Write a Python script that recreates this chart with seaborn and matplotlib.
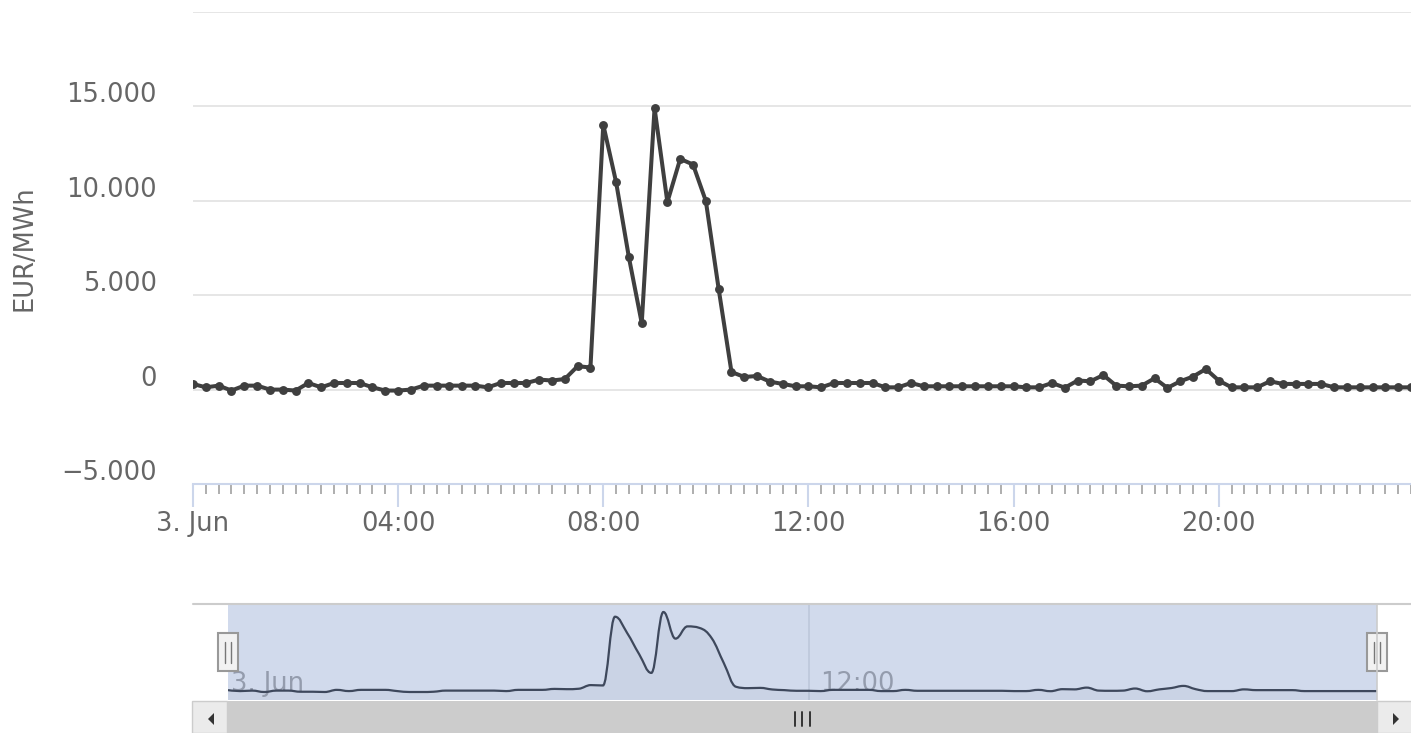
"""
Day-ahead price curve (15-min slots, 3 June) in Highcharts-Stock look:
main line chart with markers and a small navigator + scrollbar below.
"""
import numpy as np
import pandas as pd
import matplotlib
matplotlib.use("Agg")
import matplotlib.pyplot as plt
import matplotlib.dates as mdates
import seaborn as sns
from matplotlib.path import Path
from matplotlib.patches import PathPatch, Rectangle, Polygon
from matplotlib.lines import Line2D
from matplotlib.ticker import FuncFormatter
from matplotlib.transforms import ScaledTranslation, blended_transform_factory

W, H = 1411, 733

# --- data ---
timestamps = pd.date_range("2024-06-03 00:00", periods=96, freq="15min")
prices = [
    300, 120, 210, -50, 210, 210, 0, 0,
    -50, 350, 120, 350, 350, 350, 120, -50,
    -50, 0, 210, 210, 210, 210, 210, 120,
    350, 350, 350, 530, 480, 560, 1240, 1170,
    14030, 10990, 7000, 3520, 14910, 9930, 12220, 11920,
    9990, 5330, 930, 670, 720, 420, 300, 175,
    175, 120, 350, 350, 350, 350, 120, 120,
    350, 175, 175, 175, 175, 175, 175, 175,
    175, 120, 120, 350, 100, 480, 440, 770,
    210, 175, 210, 600, 90, 440, 690, 1090,
    480, 120, 120, 120, 440, 300, 300, 300,
    300, 120, 120, 120, 120, 120, 120, 120,
]
y_ticks = [-5000, 0, 5000, 10000, 15000, 20000]
y_labels = ["\u22125.000", "0", "5.000", "10.000", "15.000", ""]
day_label = "3. Jun"
y_title = "EUR/MWh"

LINE = "#3f3f3f"
TXT = "#666666"


def fx(px):
    return px / W


def fy(py):
    return 1 - py / H


def spline_path(xs, ys, smoothing=1.5):
    # Highcharts-style spline: cubic bezier control points around each point
    denom = smoothing + 1
    verts = [(xs[0], ys[0])]
    codes = [Path.MOVETO]
    right_prev = (xs[0], ys[0])
    n = len(xs)
    for i in range(1, n):
        x, y = xs[i], ys[i]
        lx, ly = xs[i - 1], ys[i - 1]
        if i < n - 1:
            nx, ny = xs[i + 1], ys[i + 1]
            lcx, lcy = (smoothing * x + lx) / denom, (smoothing * y + ly) / denom
            rcx, rcy = (smoothing * x + nx) / denom, (smoothing * y + ny) / denom
            corr = (rcy - lcy) * (rcx - x) / (rcx - lcx) + y - rcy
            lcy += corr
            rcy += corr
            if lcy > ly and lcy > y:
                lcy = max(ly, y); rcy = 2 * y - lcy
            elif lcy < ly and lcy < y:
                lcy = min(ly, y); rcy = 2 * y - lcy
            if rcy > ny and rcy > y:
                rcy = max(ny, y); lcy = 2 * y - rcy
            elif rcy < ny and rcy < y:
                rcy = min(ny, y); lcy = 2 * y - rcy
        else:
            lcx, lcy, rcx, rcy = x, y, x, y
        verts += [right_prev, (lcx, lcy), (x, y)]
        codes += [Path.CURVE4] * 3
        right_prev = (rcx, rcy)
    return verts, codes


sns.set_theme(style="white")
plt.rcParams["font.family"] = ["DejaVu Sans"]

fig = plt.figure(figsize=(W / 100, H / 100), dpi=100)

# ---------------- main chart ----------------
ax = fig.add_axes([fx(193), fy(484), 1218 / W, 472 / H])
df = pd.DataFrame({"zeit": timestamps, "preis": prices})
sns.lineplot(data=df, x="zeit", y="preis", ax=ax, color=LINE, lw=2.9,
             marker="o", markersize=6.4, markeredgewidth=0, zorder=3)

ax.set_xlim(timestamps[0], timestamps[-1])
ax.set_ylim(-5000, 20000)
ax.set_xlabel("")
ax.set_ylabel("")
ax.set_yticks(y_ticks)
ax.set_yticklabels(y_labels)
ax.grid(axis="y", color="#e6e6e6", lw=1.4)
ax.grid(axis="x", visible=False)
ax.set_axisbelow(True)
for s in ["top", "right", "left"]:
    ax.spines[s].set_visible(False)
ax.spines["bottom"].set_color("#ccd6eb")
ax.spines["bottom"].set_linewidth(1.5)
ax.spines["bottom"].set_zorder(4)

ax.xaxis.set_major_locator(mdates.HourLocator(byhour=range(0, 24, 4)))
ax.xaxis.set_minor_locator(mdates.MinuteLocator(byminute=[0, 15, 30, 45]))
ax.xaxis.set_major_formatter(FuncFormatter(
    lambda v, pos: day_label if mdates.num2date(v).hour == 0
    else mdates.num2date(v).strftime("%H:%M")))
ax.tick_params(axis="x", which="both", bottom=True, direction="out")
ax.tick_params(axis="x", which="major", length=16.5, width=1.5, color="#ccd6eb",
               labelsize=18.5, labelcolor=TXT, pad=3)
ax.tick_params(axis="x", which="minor", length=7, width=1.1, color="#999999")
ax.tick_params(axis="y", left=False, length=0, pad=26, labelsize=18.5,
               labelcolor=TXT)
# Highcharts puts the y labels slightly above their grid line
for lab in ax.get_yticklabels():
    lab.set_transform(lab.get_transform()
                      + ScaledTranslation(0, 14 / 100, fig.dpi_scale_trans))

fig.text(fx(25), fy(248), y_title, rotation=90, ha="center", va="center",
         fontsize=18.5, color=TXT)

# ---------------- navigator ----------------
nav = fig.add_axes([fx(228), fy(700), 1149 / W, 96 / H])
nav.set_facecolor("#d1daec")
xs = mdates.date2num(timestamps)
ys = np.array(prices, dtype=float)
pad = 0.1 * (ys.max() - ys.min())
nav.set_xlim(xs[0], xs[-1])
nav.set_ylim(ys.min() - pad, ys.max() + pad)
nav.set_xticks([])
nav.set_yticks([])
for s in nav.spines.values():
    s.set_visible(False)

nav.axvline(xs[48], color="#bcc6d9", lw=1.1, zorder=1)
verts, codes = spline_path(xs, ys)
bottom = ys.min() - pad
fill_verts = verts + [(xs[-1], bottom), (xs[0], bottom), (xs[0], ys[0])]
fill_codes = codes + [Path.LINETO, Path.LINETO, Path.CLOSEPOLY]
nav.add_patch(PathPatch(Path(fill_verts, fill_codes), facecolor="#4a5670",
                        alpha=0.05, edgecolor="none", zorder=2))
nav.add_patch(PathPatch(Path(verts, codes), facecolor="none",
                        edgecolor="#3e485c", lw=1.6, zorder=3))

tr = blended_transform_factory(nav.transData, nav.transAxes)
nav.text(xs[0], 0.09, day_label, transform=tr + ScaledTranslation(3 / 100, 0, fig.dpi_scale_trans),
         ha="left", va="baseline", fontsize=18.5, color="#949cad", zorder=2)
nav.text(xs[48], 0.09, "12:00", transform=tr + ScaledTranslation(12 / 100, 0, fig.dpi_scale_trans),
         ha="left", va="baseline", fontsize=18.5, color="#949cad", zorder=2)

# navigator outline
fig.add_artist(Line2D([fx(193), fx(1411)], [fy(604), fy(604)], color="#cccccc", lw=1.5))
fig.add_artist(Line2D([fx(1377), fx(1377)], [fy(604), fy(700)], color="#cccccc", lw=1.2))

# handles
for xc in (228, 1377):
    fig.add_artist(Rectangle((fx(xc - 10), fy(671)), 20 / W, 38 / H,
                             transform=fig.transFigure, facecolor="#f2f2f2",
                             edgecolor="#999999", lw=1.5))
    for dx in (-2.8, 2.8):
        fig.add_artist(Line2D([fx(xc + dx), fx(xc + dx)], [fy(642), fy(663)],
                              color="#777777", lw=1.0))

# scrollbar
fig.add_artist(Rectangle((fx(228), 0), 1149 / W, fy(701), transform=fig.transFigure,
                         facecolor="#cccccc", edgecolor="none"))
for x0 in (192, 1377):
    fig.add_artist(Rectangle((fx(x0), 0), 35 / W, fy(701), transform=fig.transFigure,
                             facecolor="#ebebeb", edgecolor="#cccccc", lw=1.0))
fig.add_artist(Polygon([(fx(208), fy(719)), (fx(214), fy(713)), (fx(214), fy(725))],
                       closed=True, transform=fig.transFigure, facecolor="#333333",
                       edgecolor="none"))
fig.add_artist(Polygon([(fx(1399), fy(719)), (fx(1393), fy(713)), (fx(1393), fy(725))],
                       closed=True, transform=fig.transFigure, facecolor="#333333",
                       edgecolor="none"))
for xg in (795, 802.5, 810):
    fig.add_artist(Line2D([fx(xg), fx(xg)], [fy(712), fy(726)], color="#333333", lw=1.4))

fig.savefig("out.png", dpi=100)
